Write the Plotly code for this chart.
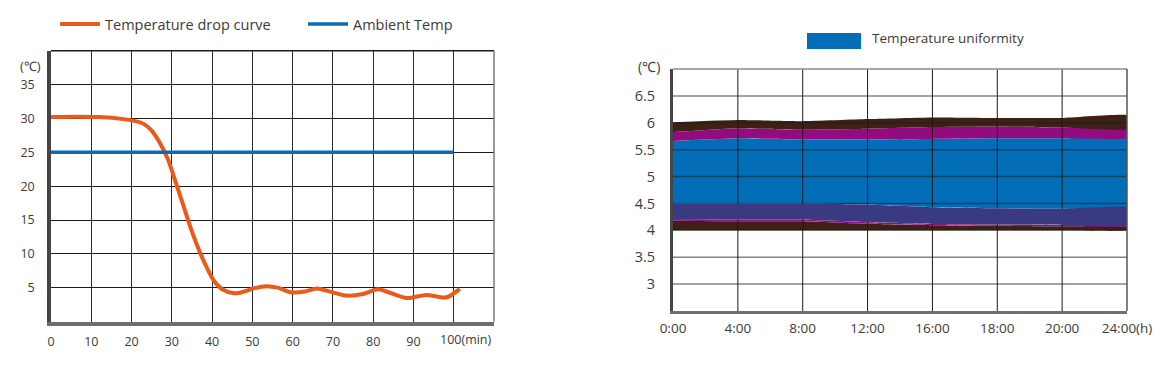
import plotly.graph_objects as go

# ---------------- data ----------------
# Left chart: temperature drop curve (minutes, °C)
drop_minutes = [0, 6, 12, 18, 21, 23, 25, 27, 29, 31, 33.5, 35, 37, 39, 40.5, 42.5, 45.5, 48,
                50.5, 53.5, 56.5, 59.5, 63, 66, 69.5, 73.5, 77.5, 81.2, 84.5, 88.3, 93.2, 98.2, 101.5]
drop_temps = [30.2, 30.25, 30.2, 29.9, 29.6, 29.2, 28.2, 26.4, 24.0, 20.5, 16.0, 13.3, 10.2, 7.6,
              6.0, 4.8, 4.2, 4.45, 4.95, 5.25, 5.0, 4.35, 4.45, 4.9, 4.4, 3.85, 4.1, 4.8, 4.2,
              3.5, 3.95, 3.6, 4.85]
ambient_minutes = [0, 100]
ambient_temps = [25, 25]
left_xticks = [0, 10, 20, 30, 40, 50, 60, 70, 80, 90, 100, 110]
left_xlabels = ["0", "10", "20", "30", "40", "50", "60", "70", "80", "90", "", ""]
left_yticks = [5, 10, 15, 20, 25, 30, 35]
left_ylabels = ["5", "10", "15", "20", "25", "30", "35"]

# Right chart: temperature uniformity bands (°C) at each time label
times = ["0:00", "4:00", "8:00", "12:00", "16:00", "18:00", "20:00", "24:00(h)"]
band_floor = [4.0, 4.0, 4.0, 4.0, 4.0, 4.0, 4.0, 4.0]
magenta_line_low = [4.18, 4.17, 4.17, 4.122, 4.095, 4.085, 4.075, 4.07]
navy_bottom = [4.21, 4.20, 4.20, 4.15, 4.12, 4.11, 4.10, 4.09]
navy_top = [4.50, 4.50, 4.50, 4.48, 4.43, 4.41, 4.40, 4.43]
blue_top = [5.66, 5.71, 5.69, 5.69, 5.70, 5.71, 5.71, 5.71]
magenta_top = [5.83, 5.90, 5.87, 5.89, 5.92, 5.93, 5.91, 5.88]
brown_top = [6.01, 6.05, 6.03, 6.07, 6.10, 6.09, 6.09, 6.14]
right_yticks = [3, 3.5, 4, 4.5, 5, 5.5, 6, 6.5]
right_ylabels = ["3", "3.5", "4", "4.5", "5", "5.5", "6", "6.5"]
right_yrange = [2.5, 7.0]

# ---------------- style ----------------
OFF = 8                      # page body margin of the html page
W, H = 1175 - 2 * OFF, 369 - 2 * OFF
FONT = "Open Sans"
TXT = "#3e3a39"
ORANGE = "#EA5A1A"
BLUE_LINE = "#0B6BB6"
BROWN = "#3E2015"
MAGENTA = "#930C7F"
BLUE = "#036EB8"
NAVY = "#3A3A82"


def px(x):
    return (x - OFF) / W


def py(y):
    return 1 - (y - OFF) / H


fig = go.Figure()

# ---- left chart ----
fig.add_trace(go.Scatter(x=drop_minutes, y=drop_temps, mode="lines", name="Temperature drop curve",
                         line=dict(color=ORANGE, width=4, shape="spline", smoothing=0.8),
                         xaxis="x", yaxis="y", legend="legend", hoverinfo="skip"))
fig.add_trace(go.Scatter(x=ambient_minutes, y=ambient_temps, mode="lines", name="Ambient Temp",
                         line=dict(color=BLUE_LINE, width=3.5),
                         xaxis="x", yaxis="y", legend="legend2", hoverinfo="skip"))

# ---- right chart ----
xi = list(range(len(times)))


def band(lower, upper, color):
    xs = xi + xi[::-1]
    ys = list(upper) + list(lower)[::-1]
    return go.Scatter(x=xs, y=ys, fill="toself", fillcolor=color, mode="lines",
                      line=dict(width=0, color=color, shape="spline", smoothing=0.3),
                      xaxis="x2", yaxis="y2", showlegend=False, hoverinfo="skip")


fig.add_trace(band(band_floor, magenta_line_low, BROWN))
fig.add_trace(band(magenta_line_low, navy_bottom, MAGENTA))
fig.add_trace(band(navy_top, blue_top, BLUE))
fig.add_trace(band(blue_top, magenta_top, MAGENTA))
fig.add_trace(band(magenta_top, brown_top, BROWN))

# grid lines drawn above the upper bands
gx_v, gy_v = [], []
for v in xi[1:-1]:
    gx_v += [v, v, None]
    gy_v += [right_yrange[0], right_yrange[1], None]
fig.add_trace(go.Scatter(x=gx_v, y=gy_v, mode="lines", line=dict(color="#231815", width=1),
                         xaxis="x2", yaxis="y2", showlegend=False, hoverinfo="skip"))
gx_h, gy_h = [], []
for v in right_yticks:
    gx_h += [xi[0], xi[-1], None]
    gy_h += [v, v, None]
fig.add_trace(go.Scatter(x=gx_h, y=gy_h, mode="lines", line=dict(color="rgba(30,30,30,0.55)", width=1.5),
                         xaxis="x2", yaxis="y2", showlegend=False, hoverinfo="skip"))
# navy band sits on top of the grid
fig.add_trace(band(navy_bottom, navy_top, NAVY))

# ---------------- layout ----------------
tickfont = dict(family=FONT, size=12.5, color=TXT)

fig.update_layout(
    width=W, height=H,
    margin=dict(l=0, r=0, t=0, b=0, pad=0, autoexpand=False),
    paper_bgcolor="white", plot_bgcolor="white",
    font=dict(family=FONT, color=TXT),
    xaxis=dict(domain=[px(51), px(494)], range=[0, 110], tickvals=left_xticks, ticktext=left_xlabels,
               showgrid=True, gridcolor="#2b2b2b", gridwidth=1, zeroline=False,
               showline=True, linecolor="#6e6e6e", linewidth=3.5, ticks="", automargin=False,
               tickfont=tickfont, ticklabelstandoff=6, anchor="y", fixedrange=True),
    yaxis=dict(domain=[py(321.7), py(50.7)], range=[0, 40], tickvals=left_yticks, ticktext=left_ylabels,
               showgrid=True, gridcolor="#231815", gridwidth=1, zeroline=False,
               showline=True, linecolor="#444444", linewidth=3.5, ticks="", automargin=False,
               tickfont=tickfont, ticklabelstandoff=10, anchor="x", fixedrange=True),
    xaxis2=dict(domain=[px(673), px(1127)], range=[0, 7], tickvals=xi, ticktext=times,
                showgrid=False, zeroline=False, showline=True, linecolor="#707070", linewidth=3,
                ticks="", tickfont=dict(family=FONT, size=13.5, color=TXT), ticklabelstandoff=3,
                anchor="y2", fixedrange=True, automargin=False),
    yaxis2=dict(domain=[py(311), py(69)], range=right_yrange, tickvals=right_yticks, ticktext=right_ylabels,
                showgrid=False, zeroline=False, showline=True, linecolor="#444444", linewidth=3,
                ticks="", tickfont=dict(family=FONT, size=14.5, color=TXT), ticklabelstandoff=12,
                anchor="x2", fixedrange=True, automargin=False),
    legend=dict(orientation="h", x=px(55), xanchor="left", y=py(24), yanchor="middle", itemwidth=40,
                font=dict(family=FONT, size=14.5, color=TXT), bgcolor="rgba(0,0,0,0)"),
    legend2=dict(orientation="h", x=px(303), xanchor="left", y=py(24), yanchor="middle", itemwidth=40,
                 font=dict(family=FONT, size=14.5, color=TXT), bgcolor="rgba(0,0,0,0)"),
    showlegend=True,
)

# borders (top / right) of both plot areas
fig.add_shape(type="line", xref="x domain", yref="y domain", x0=0, x1=1, y0=1, y1=1,
              line=dict(color="#231815", width=1.5))
fig.add_shape(type="line", xref="x domain", yref="y domain", x0=1, x1=1, y0=0, y1=1,
              line=dict(color="#777777", width=1.5))
fig.add_shape(type="line", xref="x2 domain", yref="y2 domain", x0=0, x1=1, y0=1, y1=1,
              line=dict(color="#8a8a8a", width=1.5))
fig.add_shape(type="line", xref="x2 domain", yref="y2 domain", x0=1, x1=1, y0=0, y1=1,
              line=dict(color="#555555", width=1.5))

# right legend swatch + text
fig.add_shape(type="rect", xref="paper", yref="paper", x0=px(807), x1=px(861),
              y0=py(49), y1=py(33), fillcolor=BLUE, line=dict(width=0))
fig.add_annotation(text="Temperature uniformity", xref="paper", yref="paper", x=px(870), y=py(38),
                   xanchor="left", yanchor="middle", showarrow=False,
                   font=dict(family=FONT, size=13.5, color=TXT))

# unit labels
fig.add_annotation(text="(℃)", xref="paper", yref="paper", x=px(30), y=py(66),
                   xanchor="center", yanchor="middle", showarrow=False,
                   font=dict(family=FONT, size=13, color=TXT))
fig.add_annotation(text="(℃)", xref="paper", yref="paper", x=px(649), y=py(67),
                   xanchor="center", yanchor="middle", showarrow=False,
                   font=dict(family=FONT, size=14, color=TXT))
fig.add_annotation(text="100(min)", xref="x", yref="paper", x=100, y=py(339),
                   xanchor="left", xshift=-16, yanchor="middle", showarrow=False,
                   font=tickfont)

fig.write_html("out.html")
